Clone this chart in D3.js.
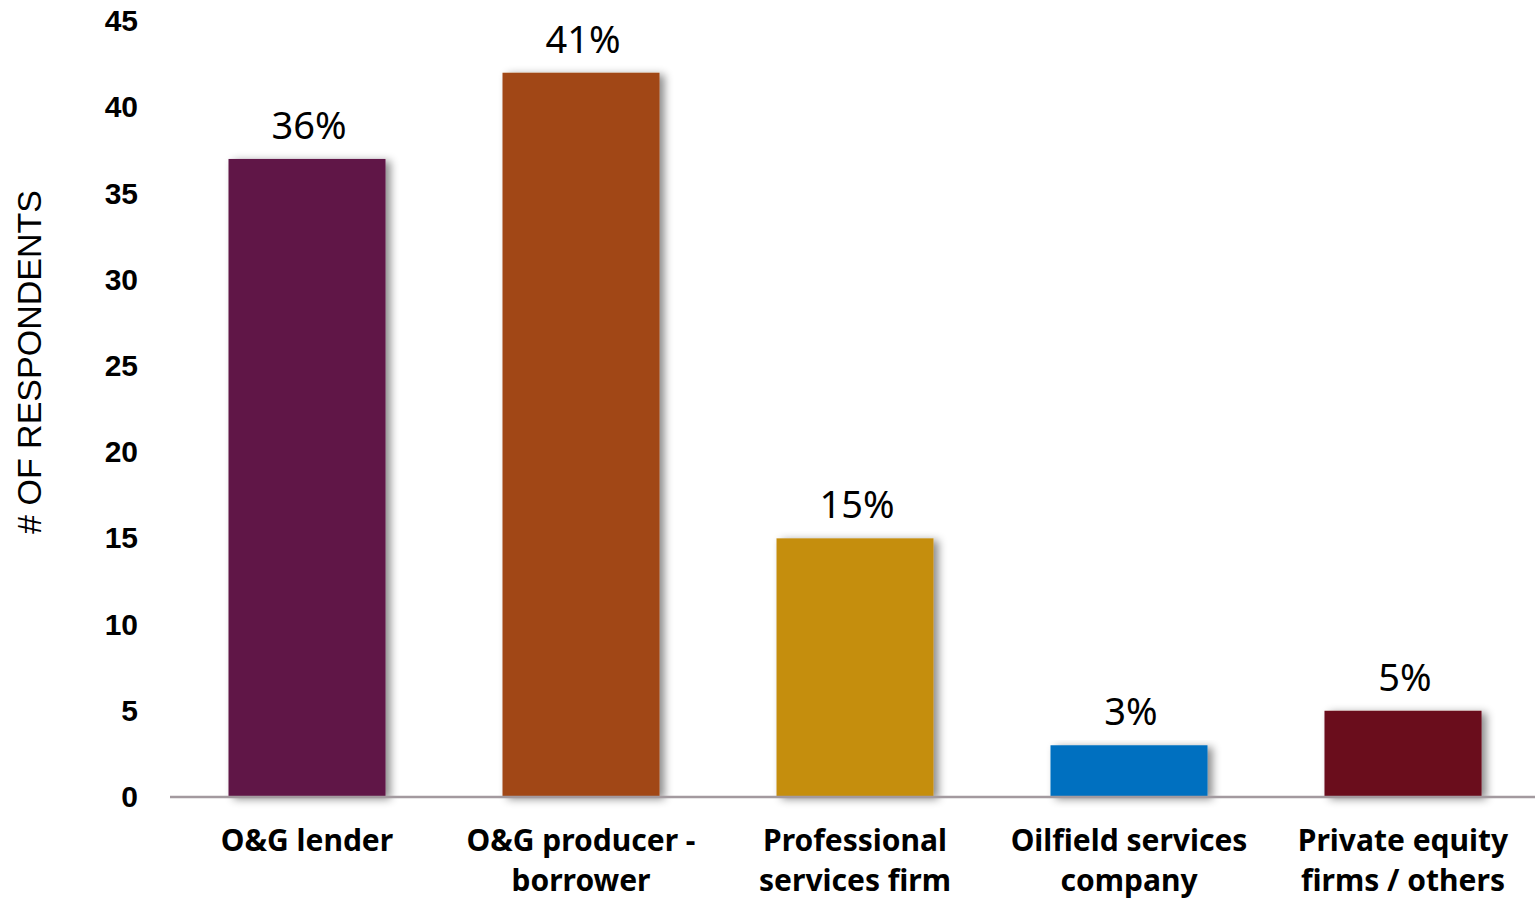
<!DOCTYPE html>
<html>
<head>
<meta charset="utf-8">
<script src="https://cdn.jsdelivr.net/npm/d3@7"></script>
<style>
  html, body { margin: 0; padding: 0; background: #fff; }
  svg { display: block; }
</style>
</head>
<body>
<svg id="chart" width="1535" height="901"></svg>
<script>
// Respondents by organisation type
const categories = [
  ["O&G lender"],
  ["O&G producer -", "borrower"],
  ["Professional", "services firm"],
  ["Oilfield services", "company"],
  ["Private equity", "firms / others"]
];
const respondents = [37, 42, 15, 3, 5];
const shareLabels = ["36%", "41%", "15%", "3%", "5%"];
const barColors = ["#611446", "#A14716", "#C58E10", "#0070C0", "#6A0C1A"];
const yTicks = [0, 5, 10, 15, 20, 25, 30, 35, 40, 45];
const yTitle = "# OF RESPONDENTS";

const svg = d3.select("#chart");

const x = d3.scaleBand()
  .domain(d3.range(categories.length))
  .range([170, 1540])
  .paddingInner(0.427)
  .paddingOuter(0.2135);

const y = d3.scaleLinear()
  .domain([0, 45])
  .range([797, 21]);

// soft shadow behind each bar
const defs = svg.append("defs");
const f = defs.append("filter").attr("id", "barShadow")
  .attr("x", "-10%").attr("y", "-10%").attr("width", "130%").attr("height", "130%");
f.append("feDropShadow")
  .attr("dx", 5).attr("dy", 2).attr("stdDeviation", 4)
  .attr("flood-color", "#000").attr("flood-opacity", 0.45);

// y axis labels
const yAxis = d3.axisLeft(y).tickValues(yTicks).tickSize(0).tickPadding(0);
const yg = svg.append("g").attr("transform", "translate(138,0)").call(yAxis);
yg.select(".domain").remove();
yg.selectAll("text")
  .attr("font-family", "'Liberation Sans', Arial, sans-serif")
  .attr("font-weight", "bold")
  .attr("font-size", 30)
  .attr("fill", "#000");

// axis title
svg.append("text")
  .attr("transform", "translate(41,362) rotate(-90)")
  .attr("text-anchor", "middle")
  .attr("font-family", "'Liberation Sans', Arial, sans-serif")
  .attr("font-size", 34)
  .attr("fill", "#000")
  .text(yTitle);

// bars
svg.append("g").selectAll("rect")
  .data(respondents)
  .join("rect")
  .attr("x", (d, i) => x(i))
  .attr("y", d => y(d))
  .attr("width", x.bandwidth())
  .attr("height", d => y(0) - y(d))
  .attr("fill", (d, i) => barColors[i])
  .attr("filter", "url(#barShadow)");

// baseline
svg.append("line")
  .attr("x1", 170).attr("x2", 1535)
  .attr("y1", y(0)).attr("y2", y(0))
  .attr("stroke", "#a39a9f").attr("stroke-width", 2.5);

// value labels
svg.append("g").selectAll("text")
  .data(respondents)
  .join("text")
  .attr("x", (d, i) => x(i) + x.bandwidth() / 2 + 2)
  .attr("y", d => y(d) - 20)
  .attr("text-anchor", "middle")
  .attr("font-family", "'Noto Sans', 'Open Sans', sans-serif")
  .attr("font-size", 38)
  .attr("fill", "#000")
  .text((d, i) => shareLabels[i]);

// category labels
const xg = svg.append("g");
categories.forEach((lines, i) => {
  const t = xg.append("text")
    .attr("x", x(i) + x.bandwidth() / 2)
    .attr("y", 851)
    .attr("text-anchor", "middle")
    .attr("font-family", "'Noto Sans', 'Open Sans', sans-serif")
    .attr("font-weight", "bold")
    .attr("font-size", 30)
    .attr("fill", "#000");
  lines.forEach((ln, j) => {
    t.append("tspan")
      .attr("x", x(i) + x.bandwidth() / 2)
      .attr("dy", j === 0 ? 0 : 40)
      .text(ln);
  });
});
</script>
</body>
</html>
